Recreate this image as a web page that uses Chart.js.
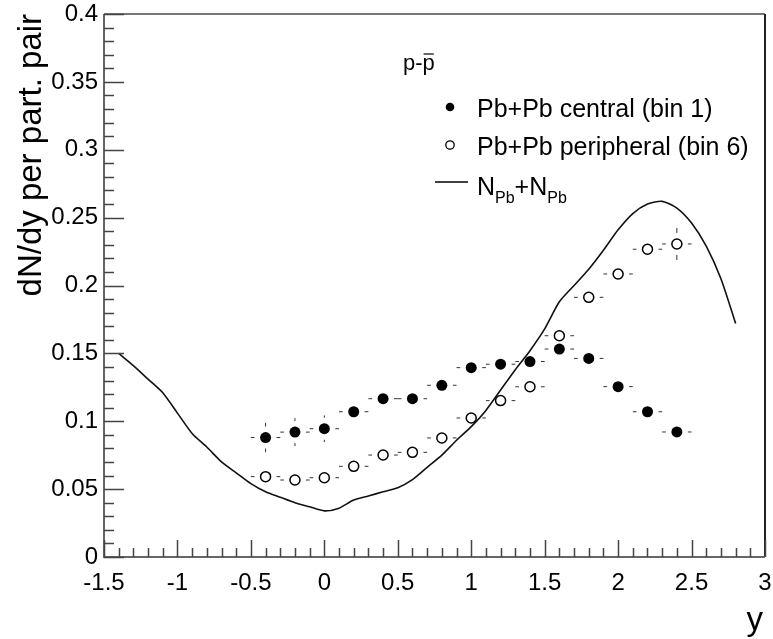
<!DOCTYPE html>
<html>
<head>
<meta charset="utf-8">
<script src="https://cdn.jsdelivr.net/npm/chart.js@4.4.1/dist/chart.umd.min.js"></script>
<style>
  html, body { margin: 0; padding: 0; background: #fff; }
  #wrap { width: 773px; height: 639px; }
</style>
</head>
<body>
<div id="wrap"><canvas id="c" width="773" height="639"></canvas></div>
<script>
  // rapidity bins and measured values
  const rapidity = [-0.4, -0.2, 0, 0.2, 0.4, 0.6, 0.8, 1.0, 1.2, 1.4, 1.6, 1.8, 2.0, 2.2, 2.4];
  const centralVals = [0.088, 0.092, 0.0945, 0.107, 0.1166, 0.1166, 0.1265, 0.1395, 0.142, 0.144, 0.1532, 0.1463, 0.1255, 0.107, 0.0921];
  const centralErr = [0.0108, 0.0103, 0.0098, 0.006, 0.006, 0.006, 0.006, 0.006, 0.006, 0.006, 0.006, 0.006, 0.006, 0.006, 0.006];
  const peripheralVals = [0.0592, 0.0567, 0.0584, 0.0668, 0.0751, 0.0771, 0.0877, 0.1024, 0.1152, 0.1254, 0.163, 0.1913, 0.2085, 0.2267, 0.2306];
  const peripheralErr = [0.005, 0.005, 0.005, 0.005, 0.005, 0.005, 0.005, 0.005, 0.005, 0.005, 0.005, 0.005, 0.006, 0.007, 0.0118];
  const binHalfWidth = 0.1;

  // N_Pb + N_Pb reference curve
  const curveX = [-1.4, -1.3, -1.2, -1.1, -1.0, -0.9, -0.8, -0.7, -0.6, -0.5, -0.4, -0.3, -0.2, -0.1, 0.0,
                  0.1, 0.2, 0.3, 0.4, 0.5, 0.6, 0.7, 0.8, 0.9, 1.0, 1.1, 1.2, 1.3, 1.4, 1.5, 1.6, 1.7,
                  1.8, 1.9, 2.0, 2.1, 2.2, 2.3, 2.4, 2.5, 2.6, 2.7, 2.8];
  const curveY = [0.150, 0.141, 0.131, 0.121, 0.106, 0.091, 0.081, 0.070, 0.062, 0.054, 0.048, 0.044, 0.040, 0.037, 0.034,
                  0.036, 0.042, 0.045, 0.048, 0.051, 0.057, 0.066, 0.075, 0.086, 0.096, 0.108, 0.123, 0.138, 0.152, 0.168, 0.188, 0.200,
                  0.212, 0.226, 0.241, 0.253, 0.260, 0.262, 0.257, 0.246, 0.229, 0.205, 0.172];

  const xTicks = [-1.5, -1, -0.5, 0, 0.5, 1, 1.5, 2, 2.5, 3];
  const yTicks = [0, 0.05, 0.1, 0.15, 0.2, 0.25, 0.3, 0.35, 0.4];

  const FONT = '"Liberation Sans", Arial, Helvetica, sans-serif';

  const toPts = (xs, ys) => xs.map((x, i) => ({ x: x, y: ys[i] }));

  // ROOT-like frame, inward ticks, error bars, legend and titles
  const rootStyle = {
    id: 'rootStyle',
    beforeDatasetsDraw(chart) {
      const ctx = chart.ctx;
      const xs = chart.scales.x, ys = chart.scales.y;
      const gap = 11;
      ctx.save();
      ctx.strokeStyle = '#333';
      ctx.lineWidth = 1;
      const bars = (vals, errs) => {
        rapidity.forEach((r, i) => {
          const px = xs.getPixelForValue(r), py = ys.getPixelForValue(vals[i]);
          const x0 = xs.getPixelForValue(r - binHalfWidth), x1 = xs.getPixelForValue(r + binHalfWidth);
          const y0 = ys.getPixelForValue(vals[i] + errs[i]), y1 = ys.getPixelForValue(vals[i] - errs[i]);
          ctx.beginPath();
          if (px - x0 > gap) { ctx.moveTo(x0, py); ctx.lineTo(px - gap, py); ctx.moveTo(px + gap, py); ctx.lineTo(x1, py); }
          if (py - y0 > gap) { ctx.moveTo(px, y0); ctx.lineTo(px, py - gap); ctx.moveTo(px, py + gap); ctx.lineTo(px, y1); }
          ctx.stroke();
        });
      };
      bars(centralVals, centralErr);
      bars(peripheralVals, peripheralErr);
      ctx.restore();
    },
    afterDraw(chart) {
      const ctx = chart.ctx;
      const a = chart.chartArea;
      const xs = chart.scales.x, ys = chart.scales.y;
      ctx.save();
      // frame
      ctx.lineWidth = 2;
      ctx.strokeStyle = '#777';
      ctx.beginPath(); ctx.moveTo(a.left, a.top); ctx.lineTo(a.right, a.top); ctx.stroke();
      ctx.strokeStyle = '#222';
      ctx.beginPath(); ctx.moveTo(a.right, a.top); ctx.lineTo(a.right, a.bottom); ctx.stroke();
      ctx.strokeStyle = '#666';
      ctx.beginPath(); ctx.moveTo(a.left, a.top); ctx.lineTo(a.left, a.bottom); ctx.lineTo(a.right, a.bottom); ctx.stroke();
      // ticks
      ctx.lineWidth = 1.5;
      ctx.strokeStyle = '#444';
      ctx.beginPath();
      for (let k = 0; k <= 40; k++) {
        const v = k * 0.01, py = Math.round(ys.getPixelForValue(v)) + 0.5;
        const len = k % 5 === 0 ? 20 : 10;
        ctx.moveTo(a.left, py); ctx.lineTo(a.left + len, py);
      }
      for (let k = 0; k <= 45; k++) {
        const v = -1.5 + k * 0.1, px = Math.round(xs.getPixelForValue(v)) + 0.5;
        const len = k % 5 === 0 ? 17 : 9;
        ctx.moveTo(px, a.bottom); ctx.lineTo(px, a.bottom - len);
      }
      ctx.stroke();

      // axis titles
      ctx.fillStyle = '#000';
      ctx.font = '33px ' + FONT;
      ctx.textAlign = 'right';
      ctx.textBaseline = 'alphabetic';
      ctx.fillText('y', a.right - 2, 630);
      ctx.save();
      ctx.translate(41, a.top);
      ctx.rotate(-Math.PI / 2);
      ctx.fillText('dN/dy per part. pair', 0, 0);
      ctx.restore();

      // legend header p-pbar
      ctx.textAlign = 'left';
      ctx.font = '22px ' + FONT;
      ctx.fillText('p-p', 403, 70);
      const wpp = ctx.measureText('p-').width, wp = ctx.measureText('p').width;
      ctx.lineWidth = 1.2;
      ctx.strokeStyle = '#000';
      ctx.beginPath(); ctx.moveTo(403 + wpp + 1, 54); ctx.lineTo(403 + wpp + wp - 1, 54); ctx.stroke();

      // legend entries
      ctx.font = '25px ' + FONT;
      ctx.fillText('Pb+Pb central (bin 1)', 477, 117);
      ctx.fillText('Pb+Pb peripheral (bin 6)', 477, 155);
      ctx.beginPath(); ctx.arc(450, 107, 4.3, 0, Math.PI * 2); ctx.fill();
      ctx.lineWidth = 1.3;
      ctx.beginPath(); ctx.arc(450, 145, 4.2, 0, Math.PI * 2); ctx.stroke();
      ctx.lineWidth = 1.6;
      ctx.beginPath(); ctx.moveTo(435, 182); ctx.lineTo(468, 182); ctx.stroke();
      let tx = 477;
      const parts = [['N', 0], ['Pb', 1], ['+N', 0], ['Pb', 1]];
      parts.forEach(p => {
        ctx.font = (p[1] ? '16px ' : '25px ') + FONT;
        ctx.fillText(p[0], tx, p[1] ? 203 : 195);
        tx += ctx.measureText(p[0]).width;
      });
      ctx.restore();
    }
  };

  new Chart(document.getElementById('c'), {
    type: 'scatter',
    data: {
      datasets: [
        {
          type: 'line',
          data: toPts(curveX, curveY),
          borderColor: '#111',
          borderWidth: 1.6,
          pointRadius: 0,
          fill: false,
          tension: 0.25,
        },
        {
          data: toPts(rapidity, centralVals),
          pointRadius: 5.5,
          pointBackgroundColor: '#000',
          pointBorderColor: '#000',
          pointBorderWidth: 0,
        },
        {
          data: toPts(rapidity, peripheralVals),
          pointRadius: 5,
          pointBackgroundColor: 'rgba(255,255,255,0)',
          pointBorderColor: '#000',
          pointBorderWidth: 1.5,
        },
      ]
    },
    options: {
      responsive: false,
      animation: false,
      layout: { padding: { top: 14, right: 8, left: 0, bottom: 0 } },
      plugins: { legend: { display: false }, tooltip: { enabled: false } },
      scales: {
        x: {
          type: 'linear', min: -1.5, max: 3,
          afterFit: s => { s.height = 82; s.paddingLeft = 0; s.paddingRight = 0; },
          afterBuildTicks: s => { s.ticks = xTicks.map(v => ({ value: v })); },
          grid: { display: false, drawTicks: false },
          border: { display: false },
          ticks: {
            autoSkip: false, maxRotation: 0, padding: 12, color: '#000',
            font: { family: FONT, size: 24 },
            callback: v => String(+v.toFixed(2)),
          },
        },
        y: {
          type: 'linear', min: 0, max: 0.4,
          afterFit: s => { s.width = 104; s.paddingTop = 0; s.paddingBottom = 0; },
          afterBuildTicks: s => { s.ticks = yTicks.map(v => ({ value: v })); },
          grid: { display: false, drawTicks: false },
          border: { display: false },
          ticks: {
            padding: 6, color: '#000',
            font: { family: FONT, size: 24 },
            callback: v => String(+v.toFixed(2)),
          },
        },
      },
    },
    plugins: [rootStyle],
  });
</script>
</body>
</html>
